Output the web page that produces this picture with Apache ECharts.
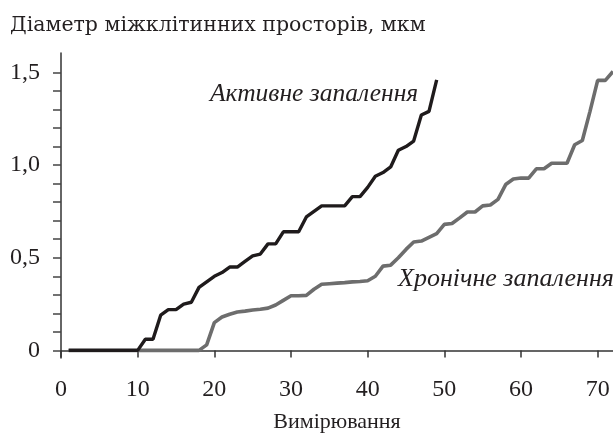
<!DOCTYPE html>
<html>
<head>
<meta charset="utf-8">
<script src="https://cdn.jsdelivr.net/npm/echarts@6/dist/echarts.min.js"></script>
<style>
  html, body { margin: 0; padding: 0; background: #fff; }
  #chart { width: 613px; height: 438px; }
</style>
</head>
<body>
<div id="chart"></div>
<script>
// measurement values, one per measurement number starting at 1
const activeValues = [
  0, 0, 0, 0, 0, 0, 0, 0, 0, 0,
  0.06, 0.06, 0.19, 0.22, 0.22, 0.25, 0.26, 0.34, 0.37, 0.40,
  0.42, 0.45, 0.45, 0.48, 0.51, 0.52, 0.575, 0.575, 0.64, 0.64,
  0.64, 0.72, 0.75, 0.78, 0.78, 0.78, 0.78, 0.83, 0.83, 0.88,
  0.94, 0.96, 0.99, 1.08, 1.10, 1.13, 1.27, 1.29, 1.46
];
const chronicValues = [
  0, 0, 0, 0, 0, 0, 0, 0, 0, 0,
  0, 0, 0, 0, 0, 0, 0, 0, 0.03, 0.15,
  0.18, 0.195, 0.207, 0.212, 0.218, 0.222, 0.228, 0.245, 0.27, 0.295,
  0.295, 0.297, 0.33, 0.357, 0.36, 0.363, 0.366, 0.37, 0.372, 0.376,
  0.40, 0.455, 0.46, 0.50, 0.545, 0.585, 0.59, 0.61, 0.63, 0.68,
  0.685, 0.715, 0.747, 0.747, 0.78, 0.785, 0.815, 0.895, 0.925, 0.93,
  0.93, 0.98, 0.98, 1.01, 1.01, 1.01, 1.11, 1.133, 1.29, 1.457,
  1.457, 1.505
];
const xTicks = [0, 10, 20, 30, 40, 50, 60, 70];
const yTicks = [0, 0.1, 0.2, 0.3, 0.4, 0.5, 0.6, 0.7, 0.8, 0.9, 1.0, 1.1, 1.2, 1.3, 1.4, 1.5];
const yLabels = [0, 0.5, 1.0, 1.5];

const serif = '"Liberation Serif", "DejaVu Serif", serif';
const wideSerif = '"DejaVu Serif", "Liberation Serif", serif';
const ink = '#231f20';

function toPoints(values) {
  return values.map((v, i) => [i + 1, v]);
}

const chart = echarts.init(document.getElementById('chart'));
chart.setOption({
  animation: false,
  backgroundColor: '#fff',
  title: {
    text: 'Діаметр міжклітинних просторів, мкм',
    left: 5,
    top: 10,
    textStyle: { fontFamily: wideSerif, fontSize: 20.5, fontWeight: 'normal', color: ink }
  },
  grid: { left: 61, right: 0, top: 53, bottom: 75 },
  xAxis: {
    type: 'value',
    min: 0,
    max: 72,
    name: 'Вимірювання',
    nameLocation: 'middle',
    nameGap: 53,
    nameTextStyle: { fontFamily: serif, fontSize: 22, color: ink },
    splitLine: { show: false },
    axisLine: { lineStyle: { color: '#333', width: 1.5 } },
    axisTick: { customValues: xTicks, length: 7, lineStyle: { color: '#333', width: 1.5 } },
    axisLabel: { customValues: xTicks, fontFamily: serif, fontSize: 24, color: ink, margin: 20 }
  },
  yAxis: {
    type: 'value',
    min: -0.041,
    max: 1.605,
    splitLine: { show: false },
    axisLine: { show: true, lineStyle: { color: '#333', width: 1.5 } },
    axisTick: { show: true, customValues: yTicks, length: 8, lineStyle: { color: '#444', width: 1.5 } },
    axisLabel: {
      customValues: yLabels,
      fontFamily: serif, fontSize: 24, color: ink, margin: 21,
      formatter: v => v === 0 ? '0' : v.toFixed(1).replace('.', ',')
    }
  },
  series: [
    {
      name: 'Активне запалення',
      type: 'line',
      data: toPoints(activeValues),
      showSymbol: false,
      lineStyle: { color: '#1f1b1c', width: 3.4 },
      z: 3
    },
    {
      name: 'Хронічне запалення',
      type: 'line',
      data: toPoints(chronicValues),
      showSymbol: false,
      lineStyle: { color: '#6d6d6d', width: 3.6 },
      z: 2
    }
  ],
  graphic: [
    {
      type: 'text', left: 210, top: 81,
      style: { text: 'Активне запалення', font: 'italic 25.5px ' + serif, fill: ink }
    },
    {
      type: 'text', left: 398, top: 266,
      style: { text: 'Хронічне запалення', font: 'italic 26px ' + serif, fill: ink }
    }
  ]
});
</script>
</body>
</html>
